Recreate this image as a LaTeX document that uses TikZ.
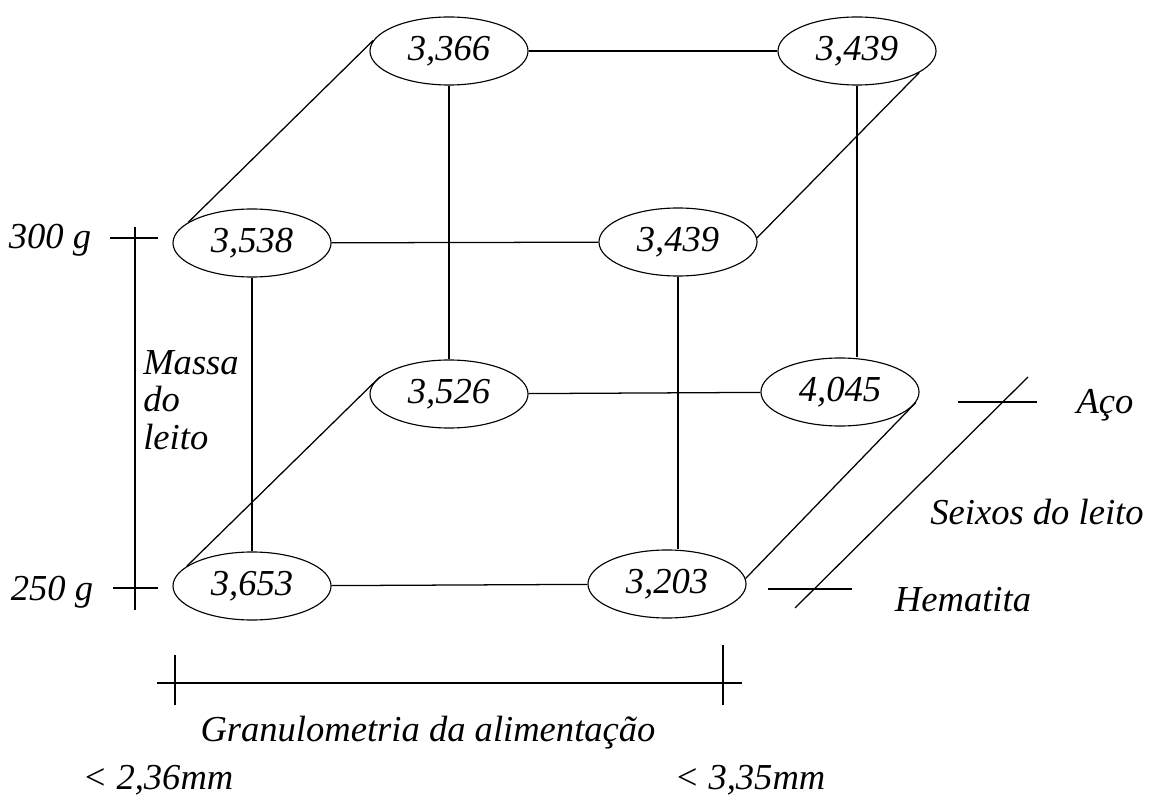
\documentclass[tikz,border=0pt]{standalone}
\usepackage{fontspec}
\setmainfont{Liberation Serif}
\usetikzlibrary{shapes.geometric}

\tikzset{
  val/.style={ellipse, draw, line width=0.8pt, minimum width=3.95cm, minimum height=1.7cm, inner sep=0pt},
  lbl/.style={inner sep=0pt},
  edge/.style={line width=0.9pt}
}

\begin{document}
\begin{tikzpicture}[x=0.025cm, y=-0.025cm, font=\fontsize{26}{30}\selectfont\itshape]
\useasboundingbox (0,0) rectangle (1152,800);

% values
\node[val] (ub1) at (449, 51) {3,366};
\node[val] (ub2) at (857, 51) {3,439};
\node[val] (uf1) at (252, 243) {3,538};
\node[val] (uf2) at (678, 242) {3,439};
\node[val] (lb1) at (449, 394) {3,526};
\node[val] (lb2) at (840, 392) {4,045};
\node[val] (lf1) at (252, 586) {3,653};
\node[val] (lf2) at (667, 584) {3,203};

% edges of the cube
\draw[edge] (ub1) -- (ub2);
\draw[edge] (uf1) -- (uf2);
\draw[edge] (lb1) -- (lb2);
\draw[edge] (lf1) -- (lf2);
\draw[edge] (ub1.south) -- (lb1.north);
\draw[edge] (uf1.south) -- (lf1.north);
\draw[edge] (ub2.south) -- (ub2.south |- lb2.north);
\draw[edge] (uf2.south) -- (uf2.south |- lf2.north);
\draw[edge] (uf1.162) -- (ub1.172);
\draw[edge] (uf2.3) -- (ub2.341);
\draw[edge] (lf1.163) -- (lb1.166);
\draw[edge] (lf2.4) -- (lb2.352);

% mass axis
\coordinate (m1) at (135, 227);
\coordinate (m2) at (135, 610);
\draw[edge] (m1) -- (m2);
\draw[edge] (110, 238) -- (158, 238);
\draw[edge] (113, 588) -- (158, 588);
\node[lbl] (t300) at (50, 240) {300 g};
\node[lbl] (t250) at (52, 592) {250 g};
\node[lbl, anchor=west, align=left, font=\fontsize{26}{26.5}\selectfont\itshape] (tmassa) at (143, 400) {Massa\\do\\leito};

% feed size axis
\coordinate (g1) at (157, 683);
\coordinate (g2) at (742, 683);
\draw[edge] (g1) -- (g2);
\draw[edge] (175, 655) -- (175, 705);
\draw[edge] (723, 645) -- (723, 705);
\node[lbl] (tgran) at (428, 733) {Granulometria da alimentação};
\node[lbl] (tg1) at (158, 780) {< 2,36mm};
\node[lbl] (tg2) at (750, 780) {< 3,35mm};

% bed pebbles axis
\coordinate (s1) at (795, 608);
\coordinate (s2) at (1028, 377);
\draw[edge] (s1) -- (s2);
\draw[edge] (958, 402) -- (1037, 402);
\draw[edge] (768, 589) -- (852, 589);
\node[lbl] (taco) at (1105, 405) {Aço};
\node[lbl] (tseixos) at (1037, 512) {Seixos do leito};
\node[lbl] (themat) at (963, 600) {Hematita};

\end{tikzpicture}
\end{document}
